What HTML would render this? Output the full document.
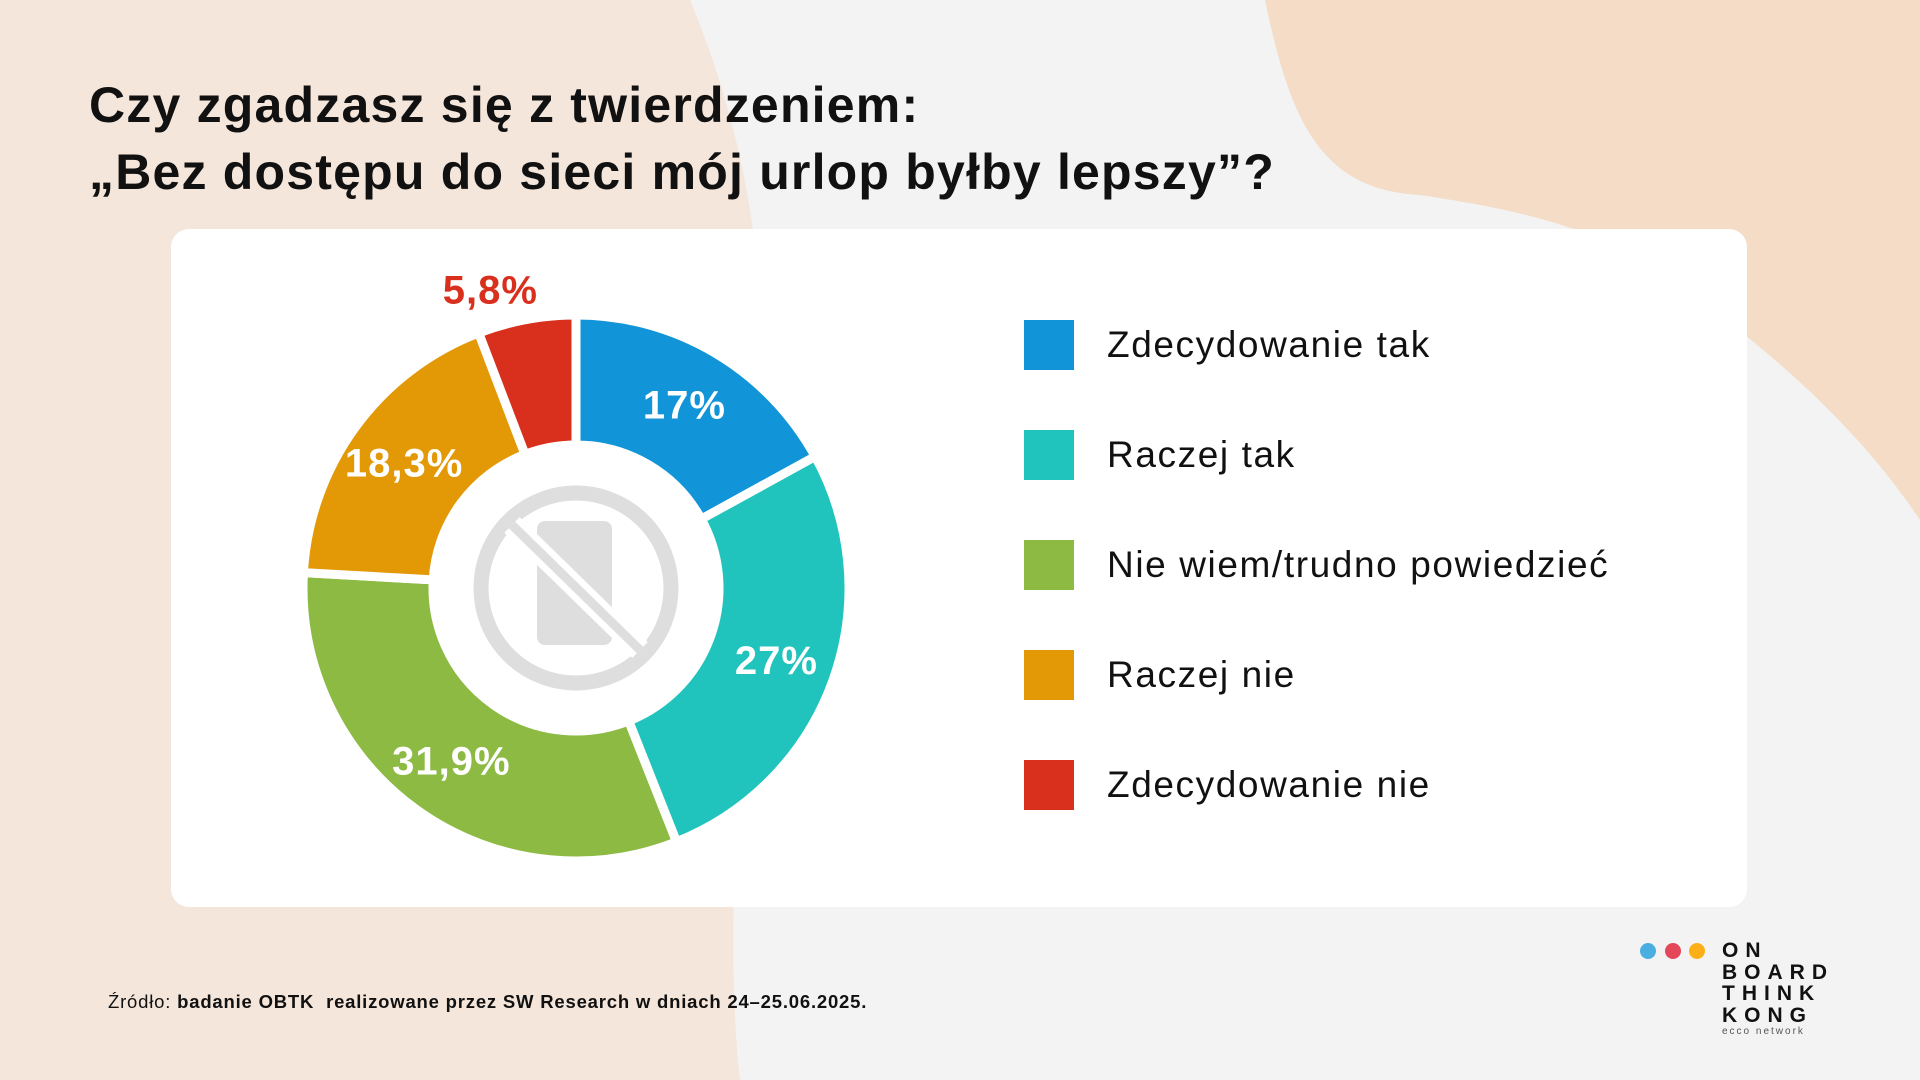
<!DOCTYPE html>
<html><head><meta charset="utf-8"><style>
body{margin:0;width:1920px;height:1080px;overflow:hidden;background:#f3f3f3;font-family:"Liberation Sans",sans-serif;position:relative}
.abs{position:absolute}
h1{position:absolute;left:89px;top:72px;margin:0;font-size:50px;line-height:67px;font-weight:bold;color:#111;letter-spacing:1.2px}
.card{left:171px;top:229px;width:1576px;height:678px;background:#fff;border-radius:18px}
.leg{position:absolute;left:1024px;height:50px;display:flex;align-items:center}
.leg i{width:50px;height:50px;display:block}
.leg span{margin-left:33px;font-size:37px;color:#111;letter-spacing:1.6px}
.src{left:108px;top:991px;font-size:18.5px;color:#111;letter-spacing:0.8px}
.logo{left:1722px;top:940px;font-weight:bold;font-size:21px;line-height:21.5px;letter-spacing:7px;color:#111}
</style></head><body>
<svg class="abs" style="left:0;top:0" width="1920" height="1080">
<path d="M0 0 H690 C740 120 770 260 760 420 C750 700 720 900 740 1080 H0 Z" fill="#f5e4d8" opacity="0.9"/>
<path d="M1265 0 H1920 V520 C1860 430 1780 360 1700 300 C1620 230 1520 210 1420 195 C1320 190 1290 120 1265 0 Z" fill="#f4dcc6"/>
</svg>
<h1>Czy zgadzasz się z twierdzeniem:<br>„Bez dostępu do sieci mój urlop byłby lepszy”?</h1>
<div class="abs card"></div>
<svg class="abs" style="left:0;top:0" width="1920" height="1080" id="donut"></svg>
<div class="leg" style="top:320px"><i style="background:#1194d8"></i><span>Zdecydowanie tak</span></div>
<div class="leg" style="top:430px"><i style="background:#20c4bc"></i><span>Raczej tak</span></div>
<div class="leg" style="top:540px"><i style="background:#8dba43"></i><span>Nie wiem/trudno powiedzieć</span></div>
<div class="leg" style="top:650px"><i style="background:#e39806"></i><span>Raczej nie</span></div>
<div class="leg" style="top:760px"><i style="background:#d9301e"></i><span>Zdecydowanie nie</span></div>
<div class="abs src">Źródło: <b>badanie OBTK &nbsp;realizowane przez SW Research w dniach 24–25.06.2025.</b></div>
<svg class="abs" style="left:1635px;top:940px" width="80" height="24">
<circle cx="13" cy="11" r="8" fill="#4aaee0"/><circle cx="38" cy="11" r="8" fill="#e4465a"/><circle cx="62" cy="11" r="8" fill="#fdaf17"/></svg>
<div class="abs logo">ON<br>BOARD<br>THINK<br>KONG</div>
<div class="abs" style="left:1722px;top:1026px;font-size:10px;letter-spacing:2px;color:#555">ecco network</div>
<script>
const categories=["Zdecydowanie tak","Raczej tak","Nie wiem/trudno powiedzieć","Raczej nie","Zdecydowanie nie"];
const values=[17,27,31.9,18.3,5.8];
const labels=["17%","27%","31,9%","18,3%","5,8%"];
const colors=["#1194d8","#20c4bc","#8dba43","#e39806","#d9301e"];
const svg=document.getElementById('donut');
const NS="http://www.w3.org/2000/svg";
const cx=576,cy=588,R=273,r=143;
const total=values.reduce((a,b)=>a+b,0);
function pt(a,rad){return [cx+rad*Math.sin(a),cy-rad*Math.cos(a)];}
let acc=0;
values.forEach((v,i)=>{
 const a0=acc/total*2*Math.PI,a1=(acc+v)/total*2*Math.PI;acc+=v;
 const large=(a1-a0)>Math.PI?1:0;
 const p0=pt(a0,R),p1=pt(a1,R),q1=pt(a1,r),q0=pt(a0,r);
 const p=document.createElementNS(NS,'path');
 p.setAttribute('d',`M${p0} A${R} ${R} 0 ${large} 1 ${p1} L${q1} A${r} ${r} 0 ${large} 0 ${q0} Z`);
 p.setAttribute('fill',colors[i]);p.setAttribute('stroke','#fff');p.setAttribute('stroke-width','9');
 
 
 svg.appendChild(p);
 const am=(a0+a1)/2;
 const outside=v<8;
 const lp=outside?pt(am,R+45):pt(am,(R+r)/2+5);
 const t=document.createElementNS(NS,'text');
 t.setAttribute('x',outside?lp[0]-28:lp[0]);t.setAttribute('y',outside?lp[1]+28:lp[1]+14);
 t.setAttribute('text-anchor','middle');t.setAttribute('font-size','40');t.setAttribute('font-weight','bold');
 t.setAttribute('letter-spacing','1');
 t.setAttribute('font-family','Liberation Sans, sans-serif');
 t.setAttribute('fill',outside?colors[i]:'#fff');
 t.textContent=labels[i];
 
 
 svg.appendChild(t);
});
const g=document.createElementNS(NS,'g');


g.innerHTML=`<circle cx="${cx}" cy="${cy}" r="95" fill="none" stroke="#dedede" stroke-width="15"/>
<rect x="537" y="521" width="75" height="124" rx="8" fill="#dedede"/>
<line x1="512" y1="525" x2="640" y2="650" stroke="#fff" stroke-width="22"/>
<line x1="512" y1="525" x2="640" y2="650" stroke="#dedede" stroke-width="9"/>`;
svg.appendChild(g);
</script>
</body></html>
